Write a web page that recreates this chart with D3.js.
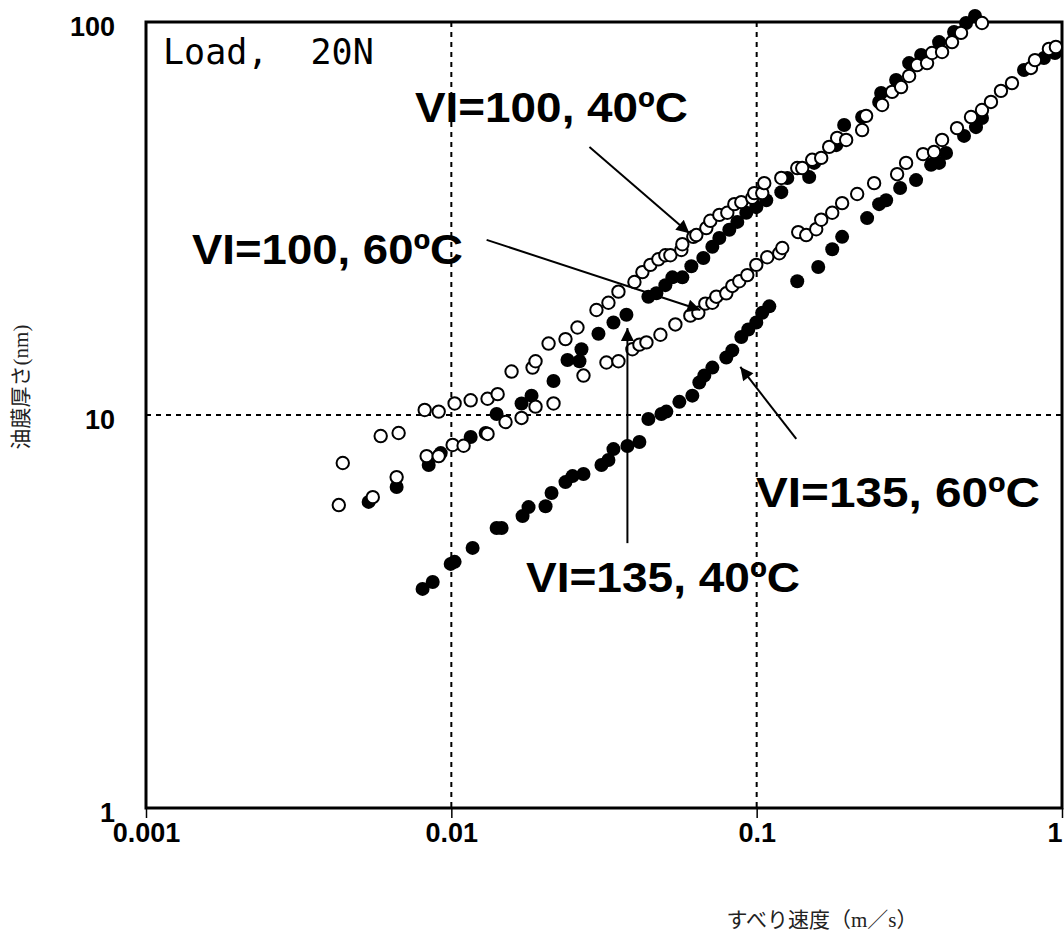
<!DOCTYPE html>
<html>
<head>
<meta charset="utf-8">
<script src="https://cdn.jsdelivr.net/npm/d3@7"></script>
<style>
  html, body { margin: 0; padding: 0; background: #fff; }
  svg { display: block; }
  .tick-label { font-family: "Liberation Sans", Arial, sans-serif; font-weight: bold; font-size: 27px; fill: #000; }
  .series-label { font-family: "Liberation Sans", Arial, sans-serif; font-weight: bold; font-size: 43px; fill: #000; }
  .load-label { font-family: "DejaVu Sans Mono", monospace; font-size: 35px; fill: #000; white-space: pre; }
  .axis-title { font-family: "Liberation Serif", "Noto Sans CJK JP", serif; font-size: 21px; fill: #222; }
</style>
</head>
<body>
<svg id="chart"></svg>
<script>
// sliding speed (m/s), film thickness (nm)
const vi100At40 = [
  [0.00441, 7.55], [0.00587, 8.84], [0.00672, 9.0], [0.00818, 10.3], [0.00909, 10.2], [0.01025, 10.7],
  [0.01157, 10.9], [0.01314, 11.0], [0.01418, 11.3], [0.01575, 12.9], [0.01845, 13.2], [0.01887, 13.7],
  [0.02082, 15.2], [0.02365, 15.6], [0.02589, 16.7], [0.02987, 18.5], [0.0327, 19.3], [0.03526, 20.6],
  [0.03978, 21.8], [0.04224, 23.1], [0.04487, 24.1], [0.04765, 24.9], [0.05023, 25.5], [0.05217, 25.5],
  [0.05667, 26.3], [0.05709, 27.2], [0.06202, 28.4], [0.06344, 28.7], [0.06841, 29.9], [0.07051, 31.2],
  [0.07546, 32.3], [0.08014, 32.7], [0.0845, 34.4], [0.08905, 34.8], [0.09674, 35.7], [0.09821, 36.7],
  [0.1043, 36.7], [0.1059, 38.9], [0.1204, 40.1], [0.1358, 42.5], [0.141, 42.5], [0.152, 44.6],
  [0.1627, 45.1], [0.1728, 48.1], [0.1835, 50.7], [0.1964, 50.1], [0.2215, 53.1], [0.2283, 57.7],
  [0.2576, 61.5], [0.2777, 66.4], [0.2972, 68.3], [0.3157, 72.9], [0.3352, 77.7], [0.3615, 78.6],
  [0.3753, 83.4], [0.4048, 83.9], [0.4364, 88.9], [0.467, 93.8], [0.547, 99.4],
];

const vi135At40 = [
  [0.00536, 6.01], [0.00662, 6.56], [0.00843, 7.46], [0.00923, 8.0], [0.01157, 8.79], [0.01295, 9.0],
  [0.01407, 10.06], [0.01698, 10.7], [0.01831, 11.2], [0.02161, 12.2], [0.02401, 13.8], [0.02628, 13.7],
  [0.02668, 14.7], [0.03033, 16.1], [0.03396, 17.2], [0.03745, 18.0], [0.04419, 20.0], [0.04694, 20.4],
  [0.05023, 21.4], [0.05296, 22.4], [0.05709, 22.4], [0.0611, 23.9], [0.06689, 25.1], [0.07159, 26.8],
  [0.07546, 28.2], [0.08136, 29.6], [0.08642, 31.0], [0.09247, 32.7], [0.0997, 33.8], [0.1075, 35.2],
  [0.1204, 36.9], [0.126, 40.1], [0.1486, 40.3], [0.1543, 43.8], [0.1822, 48.6], [0.1934, 54.7],
  [0.2215, 57.3], [0.2518, 62.6], [0.2556, 66.0], [0.2862, 71.2], [0.3157, 78.6], [0.3456, 82.4],
  [0.3958, 88.9], [0.443, 94.3], [0.485, 99.4], [0.5189, 103.6],
];

const vi100At60 = [
  [0.00428, 5.9], [0.00553, 6.18], [0.00662, 6.95], [0.0083, 7.86], [0.00909, 7.86], [0.0101, 8.39],
  [0.01097, 8.35], [0.01314, 8.95], [0.01505, 9.6], [0.01698, 9.83], [0.01887, 10.5], [0.02161, 10.7],
  [0.02709, 12.6], [0.03221, 13.6], [0.03526, 13.7], [0.03918, 14.7], [0.0413, 15.1], [0.04355, 15.3],
  [0.04839, 16.0], [0.05417, 17.0], [0.06064, 17.9], [0.06442, 18.2], [0.0679, 19.2], [0.07159, 19.3],
  [0.07377, 20.0], [0.07954, 20.4], [0.08322, 21.3], [0.08772, 21.9], [0.09318, 22.7], [0.0997, 24.1],
  [0.1083, 25.2], [0.1186, 25.8], [0.1213, 26.6], [0.1368, 29.2], [0.1453, 28.7], [0.1567, 29.7],
  [0.1627, 31.4], [0.1768, 32.7], [0.1905, 34.6], [0.2134, 36.5], [0.2425, 38.9], [0.2884, 41.0],
  [0.3086, 43.8], [0.3508, 46.1], [0.3811, 46.7], [0.4048, 50.1], [0.4531, 53.7], [0.5035, 57.3],
  [0.547, 59.7], [0.5853, 62.6], [0.6311, 66.8], [0.6858, 69.9], [0.7913, 76.4], [0.8155, 80.0],
  [0.9061, 85.4], [0.955, 86.4],
];

const vi135At60 = [
  [0.00805, 3.61], [0.00869, 3.76], [0.00995, 4.18], [0.01025, 4.23], [0.01174, 4.59], [0.01407, 5.16],
  [0.01461, 5.16], [0.01711, 5.53], [0.0179, 5.83], [0.02035, 5.86], [0.02129, 6.33], [0.02365, 6.75],
  [0.02494, 6.99], [0.02709, 7.08], [0.03102, 7.46], [0.0327, 7.68], [0.03396, 8.19], [0.03773, 8.34],
  [0.0413, 8.54], [0.04419, 9.77], [0.04875, 10.06], [0.05061, 10.2], [0.05582, 10.8], [0.06156, 11.2],
  [0.06489, 12.1], [0.06739, 12.6], [0.07159, 13.2], [0.07954, 14.0], [0.08322, 14.6], [0.08905, 15.8],
  [0.09387, 16.5], [0.0997, 17.2], [0.1043, 18.2], [0.11, 18.9], [0.1358, 21.9], [0.1591, 23.8],
  [0.1768, 26.4], [0.1905, 28.4], [0.23, 31.7], [0.2518, 34.4], [0.2655, 35.2], [0.295, 37.8],
  [0.3327, 39.6], [0.3726, 43.3], [0.3958, 43.8], [0.4171, 46.4], [0.4777, 51.3], [0.5228, 54.0],
  [0.547, 57.0], [0.7508, 75.5], [0.8727, 81.0], [0.948, 83.4],
];

const xTicks = [0.001, 0.01, 0.1, 1];
const xTickLabels = ['0.001', '0.01', '0.1', '1'];
const yTicks = [1, 10, 100];
const yTickLabels = ['1', '10', '100'];

// labels: text, where the text starts (px in plot), arrow tail -> head in data units
const seriesLabels = ['VI=100, 40ºC', 'VI=100, 60ºC', 'VI=135, 40ºC', 'VI=135, 60ºC'];
const labelPos = [[269, 100], [46, 242], [380, 570], [610, 485]];
const labelWidth = [273, 271, 274, 284];
const arrowTails = [[0.02834, 48.1], [0.01305, 27.9], [0.03773, 4.72], [0.1348, 8.69]];
const arrowHeads = [[0.0602, 29.0], [0.0654, 18.5], [0.03773, 16.65], [0.0884, 13.25]];

class FilmChart {
  constructor(_config) {
    this.config = {
      parentElement: _config.parentElement,
      containerWidth: 1064,
      containerHeight: 944,
      margin: { top: 22, right: 2, bottom: 136, left: 146 },
    };
    this.initVis();
  }

  initVis() {
    const vis = this;
    vis.width = vis.config.containerWidth - vis.config.margin.left - vis.config.margin.right;
    vis.height = vis.config.containerHeight - vis.config.margin.top - vis.config.margin.bottom;

    vis.xScale = d3.scaleLog().domain([0.001, 1]).range([0, vis.width]);
    vis.yScale = d3.scaleLog().domain([1, 100]).range([vis.height, 0]);

    vis.svg = d3.select(vis.config.parentElement)
      .attr('width', vis.config.containerWidth)
      .attr('height', vis.config.containerHeight);

    vis.svg.append('defs').append('marker')
      .attr('id', 'head')
      .attr('viewBox', '0 0 10 10')
      .attr('refX', 10)
      .attr('refY', 5)
      .attr('markerUnits', 'userSpaceOnUse')
      .attr('markerWidth', 16)
      .attr('markerHeight', 13)
      .attr('orient', 'auto')
      .append('path')
      .attr('d', 'M0,0L10,5L0,10z')
      .attr('fill', '#000');

    vis.chart = vis.svg.append('g')
      .attr('transform', `translate(${vis.config.margin.left},${vis.config.margin.top})`);

    vis.renderVis();
  }

  renderVis() {
    const vis = this;
    const x = vis.xScale;
    const y = vis.yScale;

    // dashed grid at the inner decades
    vis.chart.selectAll('.grid-x')
      .data([0.01, 0.1])
      .join('line')
      .attr('class', 'grid-x')
      .attr('x1', (d) => x(d)).attr('x2', (d) => x(d))
      .attr('y1', 0).attr('y2', vis.height)
      .attr('stroke', '#000').attr('stroke-width', 2).attr('stroke-dasharray', '5,5');

    vis.chart.selectAll('.grid-y')
      .data([10])
      .join('line')
      .attr('class', 'grid-y')
      .attr('x1', 0).attr('x2', vis.width)
      .attr('y1', (d) => y(d)).attr('y2', (d) => y(d))
      .attr('stroke', '#000').attr('stroke-width', 2).attr('stroke-dasharray', '5,5');

    // axes
    const xAxis = d3.axisBottom(x)
      .tickValues(xTicks)
      .tickSize(10)
      .tickPadding(5)
      .tickFormat((d, i) => xTickLabels[i]);
    const xAxisG = vis.chart.append('g')
      .attr('transform', `translate(0,${vis.height})`)
      .call(xAxis);
    xAxisG.select('.domain').remove();
    xAxisG.selectAll('line').attr('stroke', '#000').attr('stroke-width', 1.5);
    xAxisG.selectAll('text').attr('class', 'tick-label').attr('font-size', null).attr('font-family', null);
    // last label sits on the page edge, keep it inside
    xAxisG.selectAll('text').filter((d) => d === 1)
      .attr('text-anchor', 'end')
      .attr('dx', '0');

    const yAxis = d3.axisLeft(y)
      .tickValues(yTicks)
      .tickSize(0)
      .tickPadding(31)
      .tickFormat((d, i) => yTickLabels[i]);
    const yAxisG = vis.chart.append('g').call(yAxis);
    yAxisG.select('.domain').remove();
    yAxisG.selectAll('text').attr('class', 'tick-label').attr('font-size', null)
      .attr('font-family', null).attr('dy', '0.5em');

    // frame
    vis.chart.append('rect')
      .attr('width', vis.width)
      .attr('height', vis.height)
      .attr('fill', 'none')
      .attr('stroke', '#000')
      .attr('stroke-width', 3);

    // filled series first, open circles drawn over them
    const filled = [vi135At40, vi135At60].flat();
    const open = [vi100At40, vi100At60].flat();

    vis.chart.append('g').selectAll('circle')
      .data(filled)
      .join('circle')
      .attr('cx', (d) => x(d[0]))
      .attr('cy', (d) => y(d[1]))
      .attr('r', 7)
      .attr('fill', '#000');

    vis.chart.append('g').selectAll('circle')
      .data(open)
      .join('circle')
      .attr('cx', (d) => x(d[0]))
      .attr('cy', (d) => y(d[1]))
      .attr('r', 6.2)
      .attr('fill', '#fff')
      .attr('stroke', '#000')
      .attr('stroke-width', 2);

    // arrows + labels
    vis.chart.selectAll('.arrow')
      .data(arrowTails)
      .join('line')
      .attr('class', 'arrow')
      .attr('x1', (d) => x(d[0]))
      .attr('y1', (d) => y(d[1]))
      .attr('x2', (d, i) => x(arrowHeads[i][0]))
      .attr('y2', (d, i) => y(arrowHeads[i][1]))
      .attr('stroke', '#000')
      .attr('stroke-width', 2)
      .attr('marker-end', 'url(#head)');

    vis.chart.selectAll('.series-label')
      .data(seriesLabels)
      .join('text')
      .attr('class', 'series-label')
      .attr('x', (d, i) => labelPos[i][0])
      .attr('y', (d, i) => labelPos[i][1])
      .attr('textLength', (d, i) => labelWidth[i])
      .attr('lengthAdjust', 'spacingAndGlyphs')
      .text((d) => d);

    vis.chart.append('text')
      .attr('class', 'load-label')
      .attr('x', 17)
      .attr('y', 42)
      .text('Load,  20N');

    // axis titles
    vis.svg.append('text')
      .attr('class', 'axis-title')
      .attr('transform', 'translate(28,387) rotate(-90)')
      .attr('text-anchor', 'middle')
      .text('油膜厚さ(nm)');

    vis.svg.append('text')
      .attr('class', 'axis-title')
      .attr('x', 822)
      .attr('y', 927)
      .attr('text-anchor', 'middle')
      .text('すべり速度（m／s）');
  }
}

const chart = new FilmChart({ parentElement: '#chart' });
</script>
</body>
</html>
